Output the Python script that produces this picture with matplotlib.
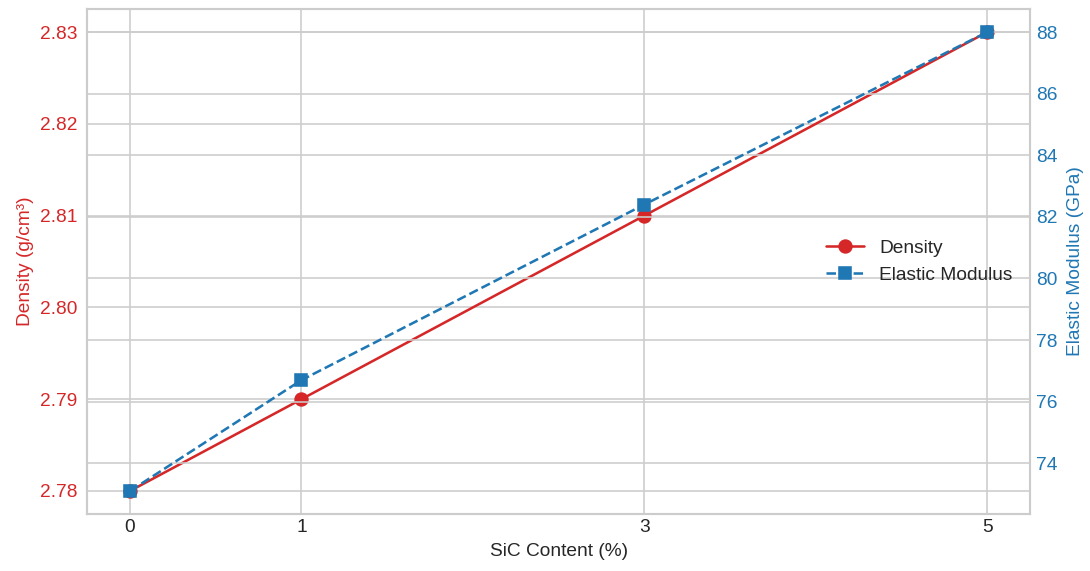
import matplotlib
matplotlib.use("Agg")
import matplotlib.pyplot as plt
import seaborn as sns

sic_content = [0, 1, 3, 5]
density = [2.78, 2.79, 2.81, 2.83]
elastic_modulus = [73.1, 76.7, 82.4, 88.0]

sns.set_theme(style="whitegrid")
plt.rcParams['font.family'] = ['Liberation Sans', 'DejaVu Sans']

red = "#d62728"
blue = "#1f77b4"
DPI = 115

fig, ax1 = plt.subplots(figsize=(1090 / DPI, 571 / DPI), dpi=DPI)
fig.subplots_adjust(left=0.08, right=0.945, top=0.984, bottom=0.1)

l1, = ax1.plot(sic_content, density, color=red, marker='o', markersize=8,
               linewidth=1.6, label='Density')
ax1.set_xlabel('SiC Content (%)', fontsize=12)
ax1.set_ylabel('Density (g/cm³)', color=red, fontsize=12, labelpad=4)
ax1.tick_params(axis='y', labelcolor=red, labelsize=12, length=0, pad=6)
ax1.tick_params(axis='x', labelsize=12, length=0)
ax1.set_xticks(sic_content)
ax1.set_yticks([2.78, 2.79, 2.80, 2.81, 2.82, 2.83])
ax1.set_yticklabels(['2.78', '2.79', '2.80', '2.81', '2.82', '2.83'])

ax2 = ax1.twinx()
l2, = ax2.plot(sic_content, elastic_modulus, color=blue, marker='s', markersize=8,
               linewidth=1.6, linestyle='--', label='Elastic Modulus')
ax2.set_ylabel('Elastic Modulus (GPa)', color=blue, fontsize=12, labelpad=6)
ax2.tick_params(axis='y', labelcolor=blue, labelsize=12, length=0)
ax2.set_yticks([74, 76, 78, 80, 82, 84, 86, 88])

for ax in (ax1, ax2):
    for s in ax.spines.values():
        s.set_color('#cccccc')
        s.set_linewidth(1.3)

ax2.legend(handles=[l1, l2], loc='center right', frameon=False, fontsize=12,
           bbox_to_anchor=(1.0, 0.5))

fig.savefig('out.png', dpi=DPI)
